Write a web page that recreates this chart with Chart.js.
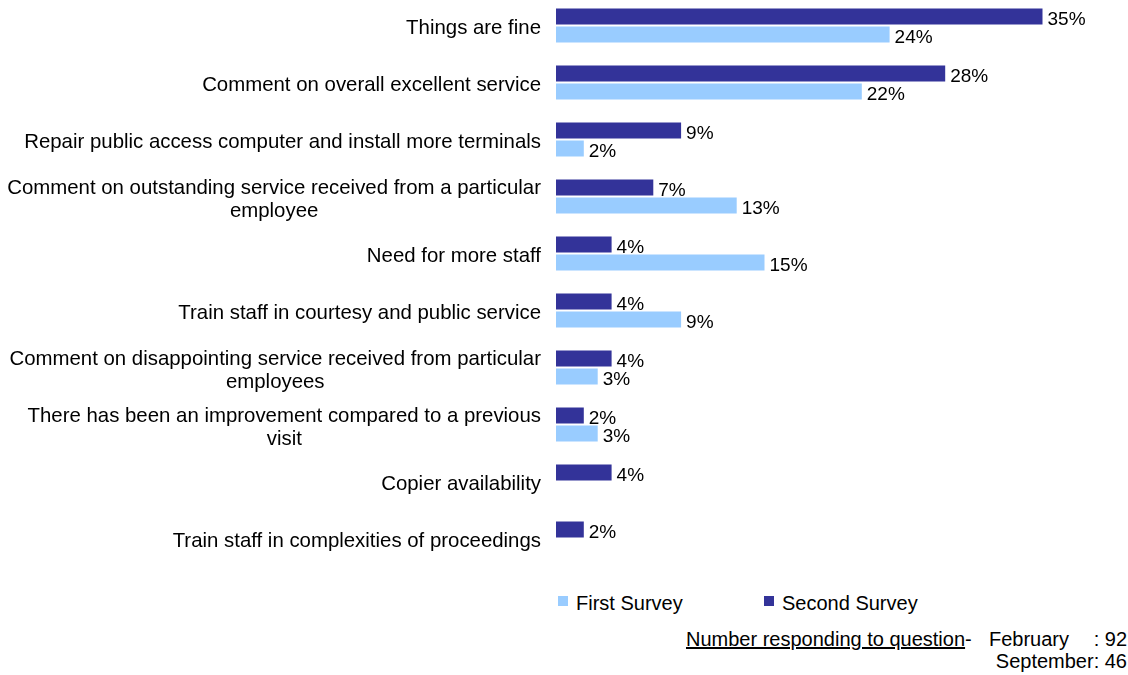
<!DOCTYPE html>
<html>
<head>
<meta charset="utf-8">
<script src="https://cdn.jsdelivr.net/npm/chart.js@4/dist/chart.umd.min.js"></script>
<style>
  body { margin: 0; background: #fff; width: 1128px; height: 675px; overflow: hidden; position: relative;
         font-family: "Liberation Sans", Arial, sans-serif; color: #000; }
  #chart { position: absolute; left: 0; top: -3px; }
  .legend-item { position: absolute; top: 592px; font-size: 20px; line-height: 22px; white-space: nowrap; }
  .legend-box { position: absolute; top: 4px; width: 10px; height: 10px; }
  .note { position: absolute; font-size: 20px; line-height: 22px; white-space: pre; }
</style>
</head>
<body>
<canvas id="chart" width="1128" height="573"></canvas>
<div id="legend"></div>
<div class="note" style="left:686px; top:628px;"><u>Number responding to question</u>-</div>
<div class="note" style="left:989px; top:628px;">February</div>
<div class="note" style="right:1px; top:628px;">: 92</div>
<div class="note" style="right:1px; top:650px;">September: 46</div>

<script>
// reasons given, one entry per row (arrays = wrapped lines)
const categories = [
    'Things are fine',
    'Comment on overall excellent service',
    'Repair public access computer and install more terminals',
    ['Comment on outstanding service received from a particular', 'employee'],
    'Need for more staff',
    'Train staff in courtesy and public service',
    ['Comment on disappointing service received from particular', 'employees'],
    ['There has been an improvement compared to a previous', 'visit'],
    'Copier availability',
    'Train staff in complexities of proceedings'
];

// percent of respondents
const secondSurvey = [35, 28, 9, 7, 4, 4, 4, 2, 4, 2];
const firstSurvey = [24, 22, 2, 13, 15, 9, 3, 3, null, null];

const labelFont = '20.4px "Liberation Sans", Arial, sans-serif';
const valueFont = '19px "Liberation Sans", Arial, sans-serif';

// row labels: block right-aligned against the bars, wrapped lines centred inside the block
const rowLabels = {
    id: 'rowLabels',
    afterDraw(chart) {
        const ctx = chart.ctx;
        const yScale = chart.scales.y;
        const right = 541;
        ctx.save();
        ctx.font = labelFont;
        ctx.fillStyle = '#000';
        ctx.textAlign = 'center';
        ctx.textBaseline = 'alphabetic';
        categories.forEach((cat, i) => {
            const lines = Array.isArray(cat) ? cat : [cat];
            const blockW = Math.max(...lines.map(l => ctx.measureText(l).width));
            const cx = right - blockW / 2;
            const y0 = yScale.getPixelForValue(i) - (lines.length - 1) * 23 / 2;
            lines.forEach((line, k) => {
                ctx.fillText(line, cx, y0 + k * 23 + 8.5);
            });
        });
        ctx.restore();
    }
};

// value labels just past the end of each bar
const valueLabels = {
    id: 'valueLabels',
    afterDatasetsDraw(chart) {
        const ctx = chart.ctx;
        ctx.save();
        ctx.font = valueFont;
        ctx.fillStyle = '#000';
        ctx.textAlign = 'left';
        ctx.textBaseline = 'alphabetic';
        chart.data.datasets.forEach((ds, di) => {
            const meta = chart.getDatasetMeta(di);
            meta.data.forEach((bar, i) => {
                const v = ds.data[i];
                if (v === null || v === undefined) return;
                ctx.fillText(v + '%', bar.x + 5, bar.y + 8.5);
            });
        });
        ctx.restore();
    }
};

const chart = new Chart(document.getElementById('chart'), {
    type: 'bar',
    data: {
        labels: categories,
        datasets: [{
            label: 'Second Survey',
            data: secondSurvey,
            backgroundColor: '#333399',
            borderWidth: 0
        }, {
            label: 'First Survey',
            data: firstSurvey,
            backgroundColor: '#99ccff',
            borderWidth: 0
        }]
    },
    options: {
        indexAxis: 'y',
        responsive: false,
        animation: false,
        devicePixelRatio: 1,
        categoryPercentage: 36 / 57,
        barPercentage: 16 / 18,
        layout: {
            padding: { left: 556, right: 16, top: 0, bottom: 3 }
        },
        scales: {
            x: { display: false, min: 0, max: 40 },
            y: { display: false }
        },
        plugins: {
            legend: { display: false },
            tooltip: { enabled: false }
        }
    },
    plugins: [rowLabels, valueLabels]
});

// legend below the plot, first survey listed first
const legendPos = [558, 764];
const legendEl = document.getElementById('legend');
chart.data.datasets.slice().reverse().forEach((ds, i) => {
    const item = document.createElement('div');
    item.className = 'legend-item';
    item.style.left = legendPos[i] + 'px';
    item.style.paddingLeft = '18px';
    item.innerHTML = '<span class="legend-box" style="left:0;background:' + ds.backgroundColor + '"></span>' + ds.label;
    legendEl.appendChild(item);
});
</script>
</body>
</html>
